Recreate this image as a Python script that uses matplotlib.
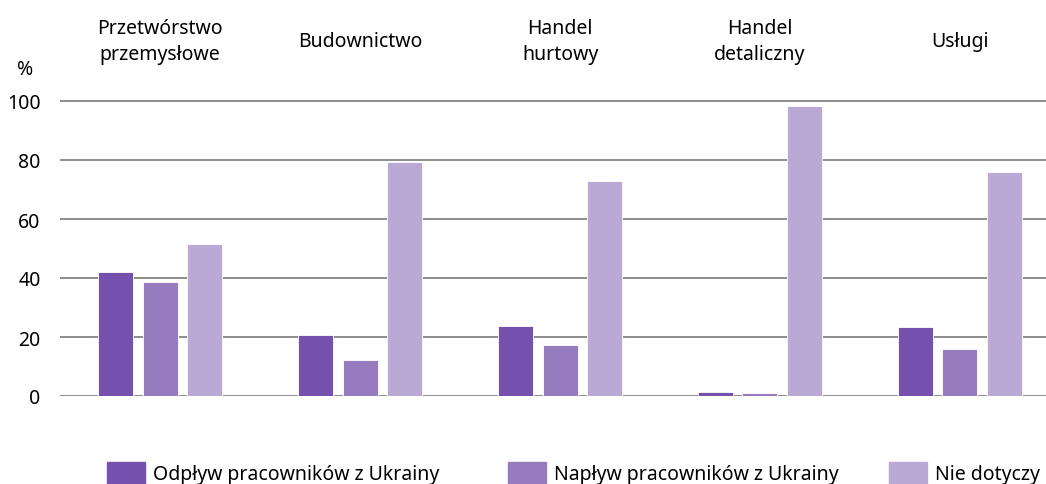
import matplotlib.pyplot as plt
import numpy as np
from matplotlib.patches import Rectangle

plt.rcParams['font.family'] = ['Noto Sans', 'DejaVu Sans']

# data
categories = ["Przetwórstwo\nprzemysłowe", "Budownictwo", "Handel\nhurtowy",
              "Handel\ndetaliczny", "Usługi"]
odplyw = [42.0, 20.7, 23.7, 1.4, 23.4]
naplyw = [38.6, 12.2, 17.3, 1.0, 15.9]
nie_dotyczy = [51.5, 79.3, 72.9, 98.3, 75.9]
series_labels = ["Odpływ pracowników z Ukrainy", "Napływ pracowników z Ukrainy",
                 "Nie dotyczy"]
colors = ["#7550ac", "#967bbe", "#baa8d5"]

W, H = 1046, 485
fig = plt.figure(figsize=(W / 100, H / 100), dpi=100)
# axes spans x 60..1060 px, y-data 0 at 397 px, 2.95 px per unit
ymax = 104
top_px = 397 - ymax * 2.95
ax = fig.add_axes([60 / W, (H - 397) / H, 1000 / W, (397 - top_px) / H])

x = np.arange(len(categories))
off = 44.5 / 200
bw = 35 / 200
for k, vals in enumerate([odplyw, naplyw, nie_dotyczy]):
    ax.bar(x + (k - 1) * off, vals, width=bw, color=colors[k],
           edgecolor="white", linewidth=0.6, zorder=3)

ax.set_xlim(-0.5, 4.5)
ax.set_ylim(0, ymax)
ax.set_yticks(range(0, 101, 20))
ax.set_xticks([])
ax.grid(axis="y", color="#8c8c8c", linewidth=1.4, zorder=0)
for s in ax.spines.values():
    s.set_visible(False)
ax.tick_params(axis="y", length=0, pad=14, labelsize=14, labelcolor="black")

for i, c in enumerate(categories):
    ax.text(i, 120.2, c, ha="center", va="center", fontsize=14,
            linespacing=1.4, clip_on=False)

fig.text(25 / W, 1 - 70 / H, "%", ha="center", va="center", fontsize=14)

# legend, placed by hand
sq_x = [107, 508, 889]
for k, lab in enumerate(series_labels):
    fig.patches.append(Rectangle((sq_x[k] / W, 0), 38 / W, 22 / H,
                                 transform=fig.transFigure, color=colors[k]))
    fig.text((sq_x[k] + 46) / W, 1 - 475 / H, lab, ha="left", va="center",
             fontsize=14)

fig.savefig("out.png", dpi=100)
